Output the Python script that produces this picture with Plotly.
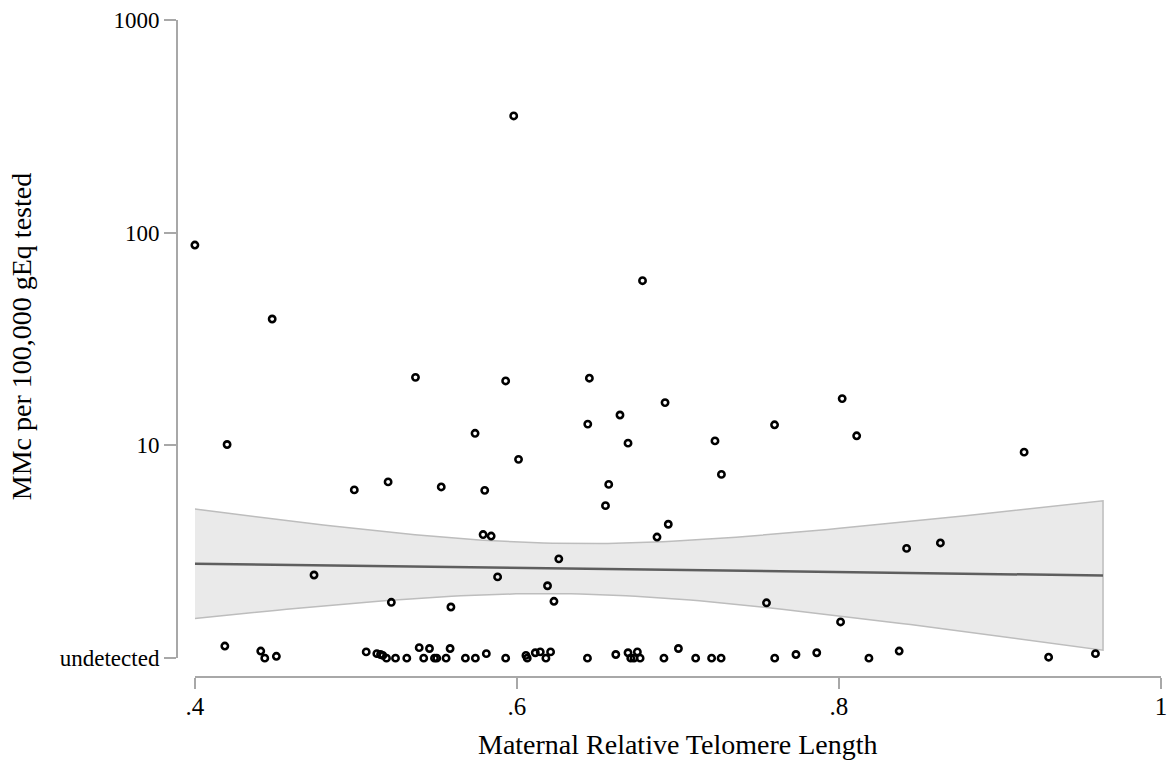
import numpy as np
import plotly.graph_objects as go

# Samples with detectable microchimerism: maternal RTL and MMc per 100,000 gEq
det_rtl = [0.598, 0.400, 0.448, 0.678, 0.537, 0.593, 0.645, 0.420, 0.574, 0.601,
           0.520, 0.499, 0.553, 0.580, 0.692, 0.664, 0.644, 0.669, 0.723, 0.727,
           0.760, 0.802, 0.811, 0.915, 0.657, 0.655, 0.694, 0.687, 0.579, 0.584,
           0.626, 0.474, 0.588, 0.619, 0.522, 0.623, 0.559, 0.755, 0.801, 0.842,
           0.863]
det_mmc = [354, 87.5, 39.3, 59.5, 20.9, 20.1, 20.7, 10.1, 11.4, 8.6,
           6.74, 6.18, 6.38, 6.15, 15.9, 13.9, 12.6, 10.25, 10.5, 7.31,
           12.5, 16.6, 11.1, 9.3, 6.56, 5.21, 4.26, 3.71, 3.81, 3.75,
           2.93, 2.46, 2.41, 2.19, 1.83, 1.85, 1.74, 1.82, 1.48, 3.28,
           3.48]

# Samples without detectable MMc (plotted at the "undetected" baseline, jittered)
und_rtl = [0.4186, 0.4409, 0.4434, 0.4506, 0.5064, 0.5130, 0.5153, 0.5167, 0.5190, 0.5246,
           0.5316, 0.5393, 0.5421, 0.5457, 0.5488, 0.5502, 0.5560, 0.5585, 0.5680, 0.5742,
           0.5810, 0.5930, 0.6056, 0.6064, 0.6114, 0.6145, 0.6180, 0.6209, 0.6438, 0.6614,
           0.6690, 0.6707, 0.6727, 0.6748, 0.6765, 0.6913, 0.7003, 0.7110, 0.7209, 0.7268,
           0.7601, 0.7733, 0.7862, 0.8186, 0.8374, 0.9302, 0.9593]
und_mmc = [1.14, 1.08, 1.00, 1.02, 1.07, 1.05, 1.04, 1.03, 1.00, 1.00,
           1.00, 1.12, 1.00, 1.11, 1.00, 1.00, 1.00, 1.11, 1.00, 1.00,
           1.05, 1.00, 1.03, 1.00, 1.06, 1.07, 1.00, 1.07, 1.00, 1.04,
           1.06, 1.00, 1.00, 1.07, 1.00, 1.00, 1.11, 1.00, 1.00, 1.00,
           1.00, 1.04, 1.06, 1.00, 1.08, 1.01, 1.05]

# RTL span over which the fitted line and its CI are drawn
fit_rtl_range = [0.400, 0.964]

# Axis ticks
x_tick_vals = [0.4, 0.6, 0.8, 1.0]
x_tick_text = [".4", ".6", ".8", "1"]
y_tick_vals = [1, 10, 100, 1000]
y_tick_text = ["undetected", "10", "100", "1000"]

# Linear fit of log10(MMc) on RTL with 95% CI of the mean prediction
x_all = np.array(det_rtl + und_rtl)
ly_all = np.log10(np.array(det_mmc + und_mmc))
n = len(x_all)
slope, intercept = np.polyfit(x_all, ly_all, 1)
resid = ly_all - (intercept + slope * x_all)
s_err = np.sqrt((resid ** 2).sum() / (n - 2))
x_bar = x_all.mean()
sxx = ((x_all - x_bar) ** 2).sum()
T_CRIT = 1.988  # two-sided 95%, ~86 df

xg = np.linspace(fit_rtl_range[0], fit_rtl_range[1], 100)
fit = intercept + slope * xg
half = T_CRIT * s_err * np.sqrt(1.0 / n + (xg - x_bar) ** 2 / sxx)
ci_hi = 10 ** (fit + half)
ci_lo = 10 ** (fit - half)

fig = go.Figure()

fig.add_trace(go.Scatter(
    x=np.concatenate([xg, xg[::-1]]),
    y=np.concatenate([ci_hi, ci_lo[::-1]]),
    mode="lines", fill="toself", fillcolor="#EAEAEA",
    line=dict(color="#BDBDBD", width=1.5),
    hoverinfo="skip",
))
fig.add_trace(go.Scatter(
    x=xg, y=10 ** fit, mode="lines",
    line=dict(color="#5E5E5E", width=2.5),
))
fig.add_trace(go.Scatter(
    x=det_rtl + und_rtl, y=det_mmc + und_mmc, mode="markers",
    marker=dict(symbol="circle-open", size=6.3, color="black",
                line=dict(width=2.6, color="black")),
    cliponaxis=False,
))

axis_gray = "#A8A8A8"
font_family = "Liberation Serif, Times New Roman, serif"

fig.update_layout(
    width=1175, height=761,
    margin=dict(l=177, r=8, t=15, b=84),
    plot_bgcolor="white", paper_bgcolor="white",
    showlegend=False,
    font=dict(family=font_family, color="black"),
    xaxis=dict(
        domain=[18 / 990, 1], range=[0.4, 1.0],
        anchor="free", position=0,
        tickmode="array", tickvals=x_tick_vals, ticktext=x_tick_text,
        ticks="outside", ticklen=11, tickwidth=2, tickcolor=axis_gray,
        showline=True, linecolor=axis_gray, linewidth=2,
        showgrid=False, zeroline=False, ticklabelstandoff=-4,
        tickfont=dict(size=25, family=font_family, color="black"),
    ),
    yaxis=dict(
        domain=[19 / 662, 1], type="log", range=[0, 3],
        anchor="free", position=0,
        tickmode="array", tickvals=y_tick_vals, ticktext=y_tick_text,
        ticks="outside", ticklen=12, tickwidth=2, tickcolor=axis_gray,
        showline=True, linecolor=axis_gray, linewidth=2,
        showgrid=False, zeroline=False,
        tickfont=dict(size=23, family=font_family, color="black"),
    ),
    annotations=[
        dict(text="Maternal Relative Telomere Length", xref="paper", yref="paper",
             x=0.509, y=-0.1027, xanchor="center", yanchor="middle",
             showarrow=False, font=dict(size=28, family=font_family, color="black")),
        dict(text="MMc per 100,000 gEq tested", xref="paper", yref="paper",
             x=-0.158, y=0.518, xanchor="center", yanchor="middle", textangle=-90,
             showarrow=False, font=dict(size=28, family=font_family, color="black")),
    ],
)

fig.write_html("out.html")
